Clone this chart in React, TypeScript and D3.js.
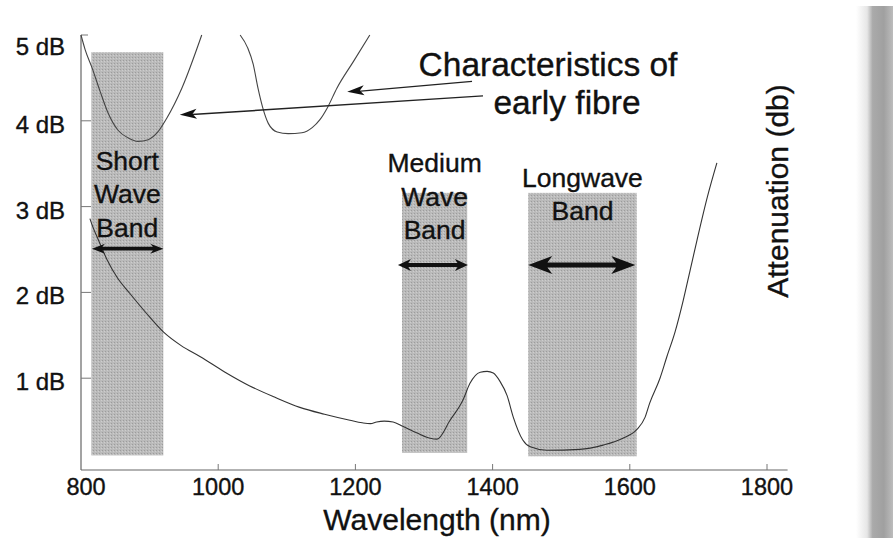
import React from "react";
import * as d3 from "d3";

// ---- data ----
const mainWavelength = [813, 816, 826, 838, 853, 871, 895, 920, 946, 974, 1010, 1046, 1082, 1119, 1155, 1192, 1210, 1222, 1231, 1242, 1255, 1269, 1290, 1309, 1319, 1338, 1357, 1367, 1382, 1392, 1401, 1411, 1421, 1430, 1444, 1455, 1479, 1527, 1561, 1590, 1610, 1622, 1629, 1644, 1654, 1666, 1678, 1688, 1698, 1713, 1727];
const mainAttenuation = [2.86, 2.79, 2.6, 2.38, 2.17, 1.99, 1.76, 1.54, 1.38, 1.25, 1.07, 0.91, 0.78, 0.66, 0.58, 0.51, 0.48, 0.47, 0.49, 0.5, 0.49, 0.44, 0.36, 0.3, 0.29, 0.51, 0.75, 0.94, 1.07, 1.08, 1.06, 0.96, 0.8, 0.55, 0.28, 0.2, 0.16, 0.17, 0.22, 0.3, 0.4, 0.54, 0.71, 1.0, 1.25, 1.54, 1.91, 2.26, 2.61, 3.11, 3.51];

const early1Wavelength = [800, 806, 816, 828, 839, 854, 869, 883, 898, 912, 925, 947, 976];
const early1Attenuation = [5.0, 4.83, 4.62, 4.34, 4.1, 3.89, 3.8, 3.76, 3.78, 3.87, 4.03, 4.38, 5.0];

const early2Wavelength = [1032, 1043, 1051, 1058, 1065, 1073, 1086, 1102, 1122, 1137, 1148, 1159, 1173, 1197, 1221];
const early2Attenuation = [5.0, 4.85, 4.66, 4.38, 4.15, 3.97, 3.87, 3.85, 3.86, 3.92, 4.01, 4.15, 4.38, 4.69, 5.0];

const bandLabelLines = [["Short", "Wave", "Band"], ["Medium", "Wave", "Band"], ["Longwave", "Band"]];
const bandStart = [815, 1268, 1452];
const bandEnd = [920, 1363, 1610];
const bandTop = [4.8, 3.16, 3.16];
const bandBottom = [0.1, 0.13, 0.09];
const bandLabelBaseline = [3.43, 3.4, 3.23];
const bandArrowLevel = [2.51, 2.32, 2.32];
const bandArrowFrom = [816, 1262, 1452];
const bandArrowTo = [920, 1364, 1608];

const annotationLines = ["Characteristics of", "early fibre"];
const annotationTailWl = [1370, 1386];
const annotationTailDb = [4.46, 4.29];
const annotationTipWl = [1188, 944];
const annotationTipDb = [4.34, 4.07];

const xTicks = [800, 1000, 1200, 1400, 1600, 1800];
const yTicks = [1, 2, 3, 4, 5];
const yTickLabels = ["1 dB", "2 dB", "3 dB", "4 dB", "5 dB"];
const xTitle = "Wavelength (nm)";
const yTitle = "Attenuation (db)";

// ---- layout ----
const W = 893;
const H = 538;
const FONT = "'Liberation Sans', Arial, Helvetica, sans-serif";
const INK = "#111";
const TEXT_STROKE = 0.35;

const x = d3.scaleLinear().domain([800, 1800]).range([81, 767]);
const y = d3.scaleLinear().domain([-0.07, 5]).range([470, 35]);

const line = d3
  .line<[number, number]>()
  .x((d) => x(d[0]))
  .y((d) => y(d[1]))
  .curve(d3.curveMonotoneX);

const zip = (a: number[], b: number[]) => a.map((v, i) => [v, b[i]] as [number, number]);

const headStyle = [
  { L: 13, H: 5, t: 1.8 },
  { L: 13, H: 6, t: 2 },
  { L: 24, H: 9, t: 2.5 },
];

function doubleArrow(x1: number, x2: number, yy: number, L: number, Hh: number, t: number) {
  const pts = [
    [x1, yy],
    [x1 + L, yy - Hh],
    [x1 + L * 0.8, yy - t],
    [x2 - L * 0.8, yy - t],
    [x2 - L, yy - Hh],
    [x2, yy],
    [x2 - L, yy + Hh],
    [x2 - L * 0.8, yy + t],
    [x1 + L * 0.8, yy + t],
    [x1 + L, yy + Hh],
  ];
  return pts.map((p) => p.join(",")).join(" ");
}

function arrowHead(tx: number, ty: number, fx: number, fy: number, L: number, Hh: number) {
  const dx = fx - tx;
  const dy = fy - ty;
  const len = Math.hypot(dx, dy);
  const ux = dx / len;
  const uy = dy / len;
  const bx = tx + ux * L;
  const by = ty + uy * L;
  const px = -uy;
  const py = ux;
  return [
    [tx, ty],
    [bx + px * Hh, by + py * Hh],
    [tx + ux * L * 0.75, ty + uy * L * 0.75],
    [bx - px * Hh, by - py * Hh],
  ]
    .map((p) => p.join(","))
    .join(" ");
}

export default function App() {
  const mainPath = line(zip(mainWavelength, mainAttenuation)) || "";
  const e1Path = line(zip(early1Wavelength, early1Attenuation)) || "";
  const e2Path = line(zip(early2Wavelength, early2Attenuation)) || "";
  const axisY = y(-0.07);
  const textProps = { fill: INK, stroke: INK, strokeWidth: TEXT_STROKE };

  return (
    <svg
      width={W}
      height={H}
      viewBox={`0 0 ${W} ${H}`}
      style={{ position: "absolute", left: 0, top: 0, background: "#fff" }}
      fontFamily={FONT}
    >
      <defs>
        <linearGradient id="scan" x1="0" x2="1" y1="0" y2="0">
          <stop offset="0" stopColor="#ffffff" />
          <stop offset="0.3" stopColor="#e6e6e6" />
          <stop offset="0.45" stopColor="#aaaaaa" />
          <stop offset="0.75" stopColor="#a0a0a0" />
          <stop offset="1" stopColor="#bcbcbc" />
        </linearGradient>
        <pattern id="dots" width="3" height="3" patternUnits="userSpaceOnUse">
          <rect width="3" height="3" fill="#bababa" />
          <rect width="1" height="1" fill="#9c9c9c" />
          <rect x="2" y="1" width="1" height="1" fill="#cdcdcd" />
        </pattern>
      </defs>

      {/* scanned page edge */}
      <rect x={856} y={6} width={37} height={H - 6} fill="url(#scan)" />

      {/* bands */}
      {bandStart.map((s, i) => (
        <rect
          key={"band" + i}
          x={x(s)}
          y={y(bandTop[i])}
          width={x(bandEnd[i]) - x(s)}
          height={y(bandBottom[i]) - y(bandTop[i])}
          fill="url(#dots)"
        />
      ))}

      {/* axes */}
      <line x1={x(800)} x2={x(1830)} y1={axisY} y2={axisY} stroke="#666" strokeWidth={1.2} />
      <line x1={x(800)} x2={x(800)} y1={y(5)} y2={axisY} stroke="#666" strokeWidth={1.2} />
      {xTicks.map((t) => (
        <g key={"xt" + t}>
          {t !== 800 && <line x1={x(t)} x2={x(t)} y1={axisY} y2={axisY - 6} stroke="#777" strokeWidth={1} />}
          <text x={x(t) + (t === 800 ? 5 : 0)} y={495} textAnchor="middle" fontSize={23.5} {...textProps}>
            {t}
          </text>
        </g>
      ))}
      {yTicks.map((t, i) => (
        <g key={"yt" + t}>
          <line x1={x(800)} x2={x(800) + (t === 5 ? 7 : 10)} y1={y(t)} y2={y(t)} stroke="#777" strokeWidth={1} />
          <text x={65} y={y(t) + (t === 5 ? 20 : 12)} textAnchor="end" fontSize={24} {...textProps}>
            {yTickLabels[i]}
          </text>
        </g>
      ))}
      <text x={437} y={530} textAnchor="middle" fontSize={30} {...textProps}>
        {xTitle}
      </text>
      <text transform={`translate(788,191) rotate(-90)`} textAnchor="middle" fontSize={30} {...textProps}>
        {yTitle}
      </text>

      {/* curves */}
      <path d={e1Path} fill="none" stroke="#444" strokeWidth={1.1} />
      <path d={e2Path} fill="none" stroke="#444" strokeWidth={1.1} />
      <path d={mainPath} fill="none" stroke="#333" strokeWidth={1.1} />

      {/* band labels & arrows */}
      {bandLabelLines.map((lines, i) => {
        const cx = (x(bandStart[i]) + x(bandEnd[i])) / 2;
        const y0 = y(bandLabelBaseline[i]);
        const hs = headStyle[i];
        return (
          <g key={"bl" + i}>
            {lines.map((l, j) => (
              <text key={j} x={cx} y={y0 + j * 33.5} textAnchor="middle" fontSize={26.5} {...textProps}>
                {l}
              </text>
            ))}
            <polygon
              points={doubleArrow(x(bandArrowFrom[i]), x(bandArrowTo[i]), y(bandArrowLevel[i]), hs.L, hs.H, hs.t)}
              fill={INK}
            />
          </g>
        );
      })}

      {/* annotation */}
      <text x={548} y={76} textAnchor="middle" fontSize={33.5} {...textProps}>
        {annotationLines[0]}
      </text>
      <text x={567} y={114} textAnchor="middle" fontSize={33.5} {...textProps}>
        {annotationLines[1]}
      </text>
      {annotationTailWl.map((w, i) => {
        const fx = x(w);
        const fy = y(annotationTailDb[i]);
        const tx = x(annotationTipWl[i]);
        const ty = y(annotationTipDb[i]);
        return (
          <g key={"an" + i}>
            <line x1={fx} y1={fy} x2={tx + 8} y2={ty} stroke="#222" strokeWidth={1.4} />
            <polygon points={arrowHead(tx, ty, fx, fy, 17, 5)} fill={INK} />
          </g>
        );
      })}
    </svg>
  );
}
